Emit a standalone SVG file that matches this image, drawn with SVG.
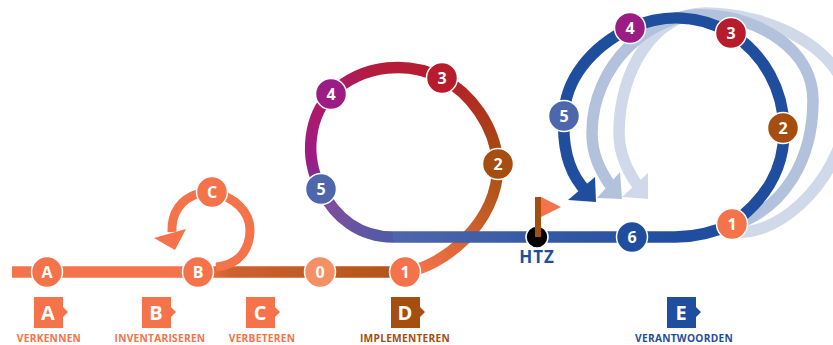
<svg xmlns="http://www.w3.org/2000/svg" width="833" height="345" viewBox="0 0 833 345">
<style>
.l{fill:none;stroke-width:11.5}
.n circle{stroke:#fff;stroke-width:1.5}
.n text{font:bold 16px "Open Sans","Liberation Sans",sans-serif;fill:#fff;text-anchor:middle}
.b text{font:bold 20px "Open Sans","Liberation Sans",sans-serif;fill:#fff;text-anchor:middle}
.b text.c{font:bold 10.2px "Open Sans","Liberation Sans",sans-serif;letter-spacing:.25px;text-anchor:middle}
.b text.o{fill:#f4734a}
.b text.d{fill:#a54e0f}
.b text.e{fill:#1f4e9e}
</style>
<defs>
<linearGradient id="g1" gradientUnits="userSpaceOnUse" x1="200" y1="0" x2="405" y2="0"><stop offset="0" stop-color="#f4734a"/><stop offset=".15" stop-color="#cf6030"/><stop offset=".9" stop-color="#b5561c"/><stop offset="1" stop-color="#a54e0f"/></linearGradient>
<linearGradient id="g2" gradientUnits="userSpaceOnUse" x1="420" y1="270" x2="498" y2="164"><stop offset="0" stop-color="#f4734a"/><stop offset="1" stop-color="#a54e0f"/></linearGradient>
<linearGradient id="g3" gradientUnits="userSpaceOnUse" x1="498" y1="164" x2="442" y2="78"><stop offset="0" stop-color="#a54e0f"/><stop offset="1" stop-color="#b71c2c"/></linearGradient>
<linearGradient id="g4" gradientUnits="userSpaceOnUse" x1="442" y1="78" x2="331" y2="94"><stop offset="0" stop-color="#b71c2c"/><stop offset=".6" stop-color="#b41c3c"/><stop offset="1" stop-color="#a81c70"/></linearGradient>
<linearGradient id="g5" gradientUnits="userSpaceOnUse" x1="331" y1="94" x2="321" y2="189"><stop offset="0" stop-color="#b01a60"/><stop offset=".7" stop-color="#9c1c86"/><stop offset="1" stop-color="#6a3f9a"/></linearGradient>
<linearGradient id="g6" gradientUnits="userSpaceOnUse" x1="321" y1="189" x2="393" y2="237"><stop offset="0" stop-color="#8a4a9a"/><stop offset="1" stop-color="#4e5ba6"/></linearGradient>
<linearGradient id="g7" gradientUnits="userSpaceOnUse" x1="393" y1="0" x2="680" y2="0"><stop offset="0" stop-color="#4e66ac"/><stop offset="1" stop-color="#1f4e9e"/></linearGradient>
</defs>
<g id="connectors">
<path class="l" d="M732 232C785 238 847 170 847 105C847 50 770 13 705 13C655 13 619 70 619 133C619 155 628 172 638 186" stroke="#d0d9e9"/>
<polygon points="648,173 648,199 622,197" fill="#d0d9e9"/>
<path class="l" d="M732 226C785 208 813 160 813 100C813 50 760 17 706 15C650 12 592 65 592 133C592 155 600 170 610 185" stroke="#b2c2dc"/>
<polygon points="620,172 622,199 597,198" fill="#b2c2dc"/>
<path class="l" d="M12 272H198" stroke="#f4734a"/>
<path class="l" d="M198 272H405" stroke="url(#g1)"/>
<path d="M216 267C240 265 250 248 250 230C250 212 235 197 212 192" fill="none" stroke="#f4734a" stroke-width="9"/>
<path d="M197 194C182 199 171 212 172 232" fill="none" stroke="#f4734a" stroke-width="9"/>
<polygon points="154,238 186,229 175,250" fill="#f4734a"/>
<path class="l" d="M405 272C440 268 498 225 498 164" stroke="url(#g2)"/>
<path class="l" d="M498 164C495 125 470 93 442 78" stroke="url(#g3)"/>
<path class="l" d="M442 78C410 62 365 62 331 94" stroke="url(#g4)"/>
<path class="l" d="M331 94C310 115 303 155 321 189" stroke="url(#g5)"/>
<path class="l" d="M321 189C335 218 360 237 393 237" stroke="url(#g6)"/>
<path class="l" d="M393 237H675" stroke="url(#g7)"/>
<path class="l" d="M675 237C695 237 715 232 732 224C765 200 785 170 784 128C783 90 765 55 731 33C700 15 665 13 630 28C590 48 565 80 564 116C562 150 570 175 587 192" stroke="#1f4e9e"/>
<polygon points="595,177 596,202 568,200" fill="#1f4e9e"/>
</g>
<g id="node-A" class="n"><circle cx="47" cy="272" r="15.5" fill="#f4734a"/><text x="47" y="278">A</text></g>
<g id="node-B" class="n"><circle cx="198" cy="272" r="15.5" fill="#f4734a"/><text x="198" y="278">B</text></g>
<g id="node-C" class="n"><circle cx="212" cy="192" r="15.5" fill="#f4734a"/><text x="212" y="198">C</text></g>
<g id="node-0" class="n"><circle cx="320" cy="272" r="15.5" fill="#f58f65"/><text x="320" y="278">0</text></g>
<g id="node-1a" class="n"><circle cx="405" cy="272" r="15.5" fill="#f4734a"/><text x="405" y="278">1</text></g>
<g id="node-2a" class="n"><circle cx="498" cy="164" r="15.5" fill="#a54e0f"/><text x="498" y="170">2</text></g>
<g id="node-3a" class="n"><circle cx="442" cy="78" r="15.5" fill="#b71c2c"/><text x="442" y="84">3</text></g>
<g id="node-4a" class="n"><circle cx="331" cy="94" r="15.5" fill="#9c1c86"/><text x="331" y="100">4</text></g>
<g id="node-5a" class="n"><circle cx="321" cy="189" r="15.5" fill="#4e66ac"/><text x="321" y="195">5</text></g>
<g id="node-HTZ">
<circle cx="537" cy="237" r="11" fill="#000" stroke="#fff" stroke-width="1.5"/>
<rect x="535" y="197" width="6" height="40" fill="#a54e0f"/>
<polygon points="541,197 561,207 541,217" fill="#f4734a"/>
<text x="537" y="263" font-family="'Open Sans','Liberation Sans',sans-serif" font-weight="bold" font-size="17" letter-spacing="1" text-anchor="middle" fill="#1f4e9e">HTZ</text>
</g>
<g id="node-6" class="n"><circle cx="632" cy="237" r="15.5" fill="#1f4e9e"/><text x="632" y="243">6</text></g>
<g id="node-1b" class="n"><circle cx="732" cy="224" r="15.5" fill="#f4734a"/><text x="732" y="230">1</text></g>
<g id="node-2b" class="n"><circle cx="783" cy="128" r="15.5" fill="#a54e0f"/><text x="783" y="134">2</text></g>
<g id="node-3b" class="n"><circle cx="731" cy="33" r="15.5" fill="#b71c2c"/><text x="731" y="39">3</text></g>
<g id="node-4b" class="n"><circle cx="630" cy="28" r="15.5" fill="#9c1c86"/><text x="630" y="34">4</text></g>
<g id="node-5b" class="n"><circle cx="564" cy="116" r="15.5" fill="#4e66ac"/><text x="564" y="122">5</text></g>
<g id="legend-A" class="b"><path d="M34 297H63V307L68 312L63 317V328H34Z" fill="#f4734a"/><text x="48" y="320">A</text><text class="c o" x="49" y="341.5">VERKENNEN</text></g>
<g id="legend-B" class="b"><path d="M142 297H171V307L176 312L171 317V328H142Z" fill="#f4734a"/><text x="156" y="320">B</text><text class="c o" x="160" y="341.5">INVENTARISEREN</text></g>
<g id="legend-C" class="b"><path d="M246 297H275V307L280 312L275 317V328H246Z" fill="#f4734a"/><text x="260" y="320">C</text><text class="c o" x="262" y="341.5">VERBETEREN</text></g>
<g id="legend-D" class="b"><path d="M391 297H420V307L425 312L420 317V328H391Z" fill="#a54e0f"/><text x="405" y="320">D</text><text class="c d" x="405" y="341.5">IMPLEMENTEREN</text></g>
<g id="legend-E" class="b"><path d="M667 297H696V307L701 312L696 317V328H667Z" fill="#1f4e9e"/><text x="681" y="320">E</text><text class="c e" x="684" y="341.5">VERANTWOORDEN</text></g>
</svg>
